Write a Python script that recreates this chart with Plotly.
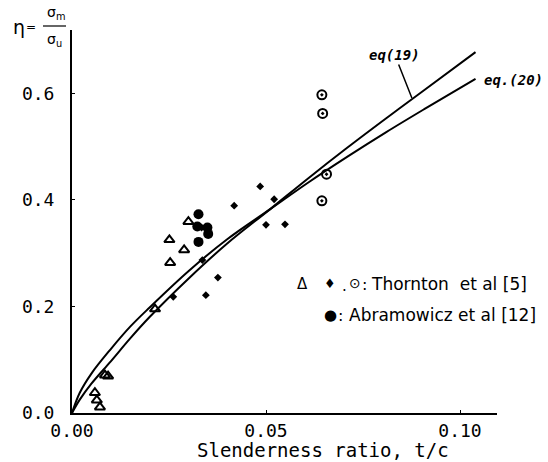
import plotly.graph_objects as go

# ---- data ----
eq_x = [0, 0.002, 0.005, 0.010, 0.015, 0.020, 0.030, 0.040, 0.051, 0.061, 0.071, 0.081, 0.091, 0.104]
eq19_y = [0, 0.025, 0.055, 0.097, 0.140, 0.180, 0.252, 0.318, 0.382, 0.441, 0.498, 0.553, 0.607, 0.677]
eq20_y = [0, 0.038, 0.074, 0.120, 0.162, 0.198, 0.266, 0.326, 0.382, 0.433, 0.481, 0.527, 0.571, 0.627]

tri_x = [0.0300, 0.0251, 0.0289, 0.0253, 0.0214, 0.0085, 0.0093, 0.0059, 0.0064, 0.0072]
tri_y = [0.359, 0.325, 0.306, 0.282, 0.195, 0.071, 0.069, 0.038, 0.024, 0.011]

dia_x = [0.0485, 0.0418, 0.0521, 0.0500, 0.0549, 0.0376, 0.0345, 0.0336, 0.0261, 0.0334]
dia_y = [0.425, 0.389, 0.401, 0.353, 0.354, 0.254, 0.221, 0.287, 0.218, 0.348]

cir_x = [0.0644, 0.0646, 0.0656, 0.0644]
cir_y = [0.597, 0.562, 0.448, 0.398]

abr_x = [0.0326, 0.0323, 0.0349, 0.0351, 0.0326]
abr_y = [0.373, 0.350, 0.348, 0.336, 0.321]

x_ticks = [0.00, 0.05, 0.10]
x_tick_text = ["0.00", "0.05", "0.10"]
y_ticks = [0.0, 0.2, 0.4, 0.6]
y_tick_text = ["0.0", "0.2", "0.4", "0.6"]

# ---- layout geometry ----
W, H = 548, 462
L, R, T, B = 72, 497, 30, 413


def px(xp, yp):
    return (xp - L) / (R - L), (B - yp) / (B - T)


MONO = "DejaVu Sans Mono"
SANS = "DejaVu Sans"

fig = go.Figure()
line = dict(color="black", width=2)
fig.add_trace(go.Scatter(x=eq_x, y=eq19_y, mode="lines", line=dict(shape="spline", **line)))
fig.add_trace(go.Scatter(x=eq_x, y=eq20_y, mode="lines", line=dict(shape="spline", **line)))
fig.add_trace(go.Scatter(x=tri_x, y=tri_y, mode="markers",
                         marker=dict(symbol="triangle-up-open", size=9, color="black", line=dict(width=2, color="black"))))
fig.add_trace(go.Scatter(x=dia_x, y=dia_y, mode="markers",
                         marker=dict(symbol="diamond", size=6, color="black")))
fig.add_trace(go.Scatter(x=cir_x, y=cir_y, mode="markers",
                         marker=dict(symbol="circle-open-dot", size=9, color="black", line=dict(width=2, color="black"))))
fig.add_trace(go.Scatter(x=abr_x, y=abr_y, mode="markers",
                         marker=dict(symbol="circle", size=10, color="black")))

ann = []


def text_at(xp, yp, t, size=15, family=SANS, xanchor="center"):
    x, y = px(xp, yp)
    ann.append(dict(x=x, y=y, xref="paper", yref="paper", text=t, showarrow=False,
                    font=dict(family=family, size=size, color="black"), xanchor=xanchor, yanchor="middle"))


# y-axis label  eta = sigma_m / sigma_u
text_at(19, 27, "η", size=19)
text_at(31, 27, "=", size=12)
text_at(56, 13, "σ<sub>m</sub>", size=14)
text_at(54, 40, "σ<sub>u</sub>", size=14)
# x-axis title
text_at(323, 450, "Slenderness ratio, t/c", size=19, family=MONO)
# eq labels
text_at(513, 80, "<b><i>eq.(20)</i></b>", size=14, family=MONO)
ann.append(dict(x=0.0876, y=0.591, xref="x", yref="y", ax=-17, ay=-43,
                text="<b><i>eq(19)</i></b>", showarrow=True, arrowhead=0, arrowwidth=1.5,
                arrowcolor="black", standoff=0,
                font=dict(family=MONO, size=14, color="black")))
# legend: row 1
text_at(302, 284, "Δ", size=15)
text_at(330, 283, "♦", size=13)
text_at(344, 286, ".", size=15)
text_at(355, 283, "⊙", size=14)
text_at(364, 284, ":", size=16)
text_at(369, 284, "Thornton  et al [5]", size=17, xanchor="left")
# legend: row 2
text_at(330, 315, "●", size=15)
text_at(340, 315, ":", size=16)
text_at(347, 315, "Abramowicz et al [12]", size=17, xanchor="left")

fig.update_layout(
    width=W, height=H,
    margin=dict(l=L, r=W - R, t=T, b=H - B),
    paper_bgcolor="white", plot_bgcolor="white",
    showlegend=False,
    annotations=ann,
    shapes=[dict(type="line", xref="paper", yref="paper",
                 x0=px(43, 0)[0], x1=px(66, 0)[0], y0=px(0, 26)[1], y1=px(0, 26)[1],
                 line=dict(color="black", width=1.2))],
    xaxis=dict(range=[0, (R - L) / 3880], showgrid=False, zeroline=False, showline=True,
               linecolor="black", linewidth=2, ticks="inside", ticklen=3, tickcolor="black",
               tickvals=x_ticks, ticktext=x_tick_text,
               tickfont=dict(family=MONO, size=18, color="black")),
    yaxis=dict(range=[0, (B - T) / 533], showgrid=False, zeroline=False, showline=True,
               linecolor="black", linewidth=2, ticks="inside", ticklen=3, tickcolor="black",
               tickvals=y_ticks, ticktext=y_tick_text, ticklabelstandoff=12,
               tickfont=dict(family=MONO, size=18, color="black")),
)

fig.write_html("out.html", config={"displayModeBar": False},
               post_script="document.body.style.margin='0px';")
